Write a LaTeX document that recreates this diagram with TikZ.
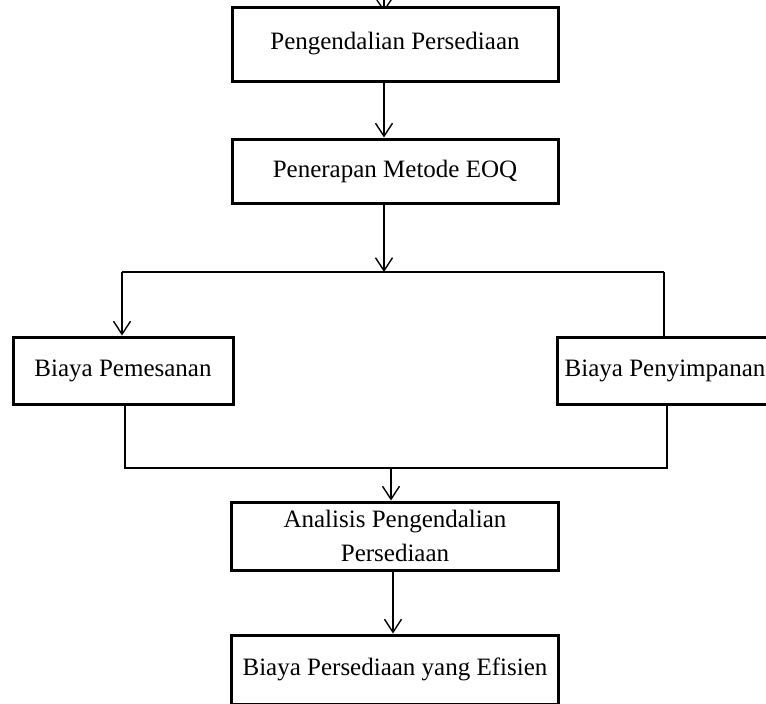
\documentclass[tikz,border=0pt]{standalone}
\usepackage{fontspec}
\setmainfont{Liberation Serif}
\usetikzlibrary{arrows.meta}
\tikzset{
    kotak/.style={draw, line width=3pt, fill=white, align=center, inner sep=0pt,
        font=\fontsize{25}{34}\selectfont},
    panah/.style={line width=1.4pt, -{Straight Barb[length=13pt, width=17pt, line width=1.4pt]}},
    garis/.style={line width=1.4pt}
}
\begin{document}
\begin{tikzpicture}[x=1pt, y=-1pt]
        \useasboundingbox (0,0) rectangle (766,704);
        \coordinate (atas) at (384, -20);
        \coordinate (masuk) at (384, 12);
        \draw[panah] (atas) -- (masuk);
        \node[kotak, minimum width=326, minimum height=74] (kendali) at (395, 44) {Pengendalian Persediaan};
        \node[kotak, minimum width=326, minimum height=64] (eoq) at (395, 171) {Penerapan Metode EOQ};
        \node[kotak, minimum width=220, minimum height=67] (pesan) at (123, 370.5) {Biaya Pemesanan};
        \node[kotak, minimum width=216, minimum height=67] (simpan) at (665, 370.5) {Biaya Penyimpanan};
        \node[kotak, minimum width=327, minimum height=68] (analisis) at (395, 536) {Analisis Pengendalian\\Persediaan};
        \node[kotak, minimum width=327, minimum height=69] (efisien) at (395, 669.5) {Biaya Persediaan yang Efisien};
        \coordinate (cabang) at (384, 272);
        \coordinate (kiri) at (122, 272);
        \coordinate (kanan) at (664, 272);
        \coordinate (gabung) at (391, 468);
        \coordinate (bawahkiri) at (125, 468);
        \coordinate (bawahkanan) at (667, 468);
        \draw[panah] ([xshift=-11]kendali.south) -- ([xshift=-11]eoq.north);
        \draw[panah] ([xshift=-11]eoq.south) -- (cabang);
        \draw[garis] (kanan) -- (kiri);
        \draw[panah] (kiri) -- (kiri |- pesan.north);
        \draw[garis] (kanan) -- (kanan |- simpan.north);
        \draw[garis] (bawahkiri |- pesan.south) -- (bawahkiri) -- (bawahkanan) -- (bawahkanan |- simpan.south);
        \draw[panah] (gabung) -- (gabung |- analisis.north);
        \draw[panah] ([xshift=-2]analisis.south) -- ([xshift=-2]efisien.north);
    \end{tikzpicture}
\end{document}
